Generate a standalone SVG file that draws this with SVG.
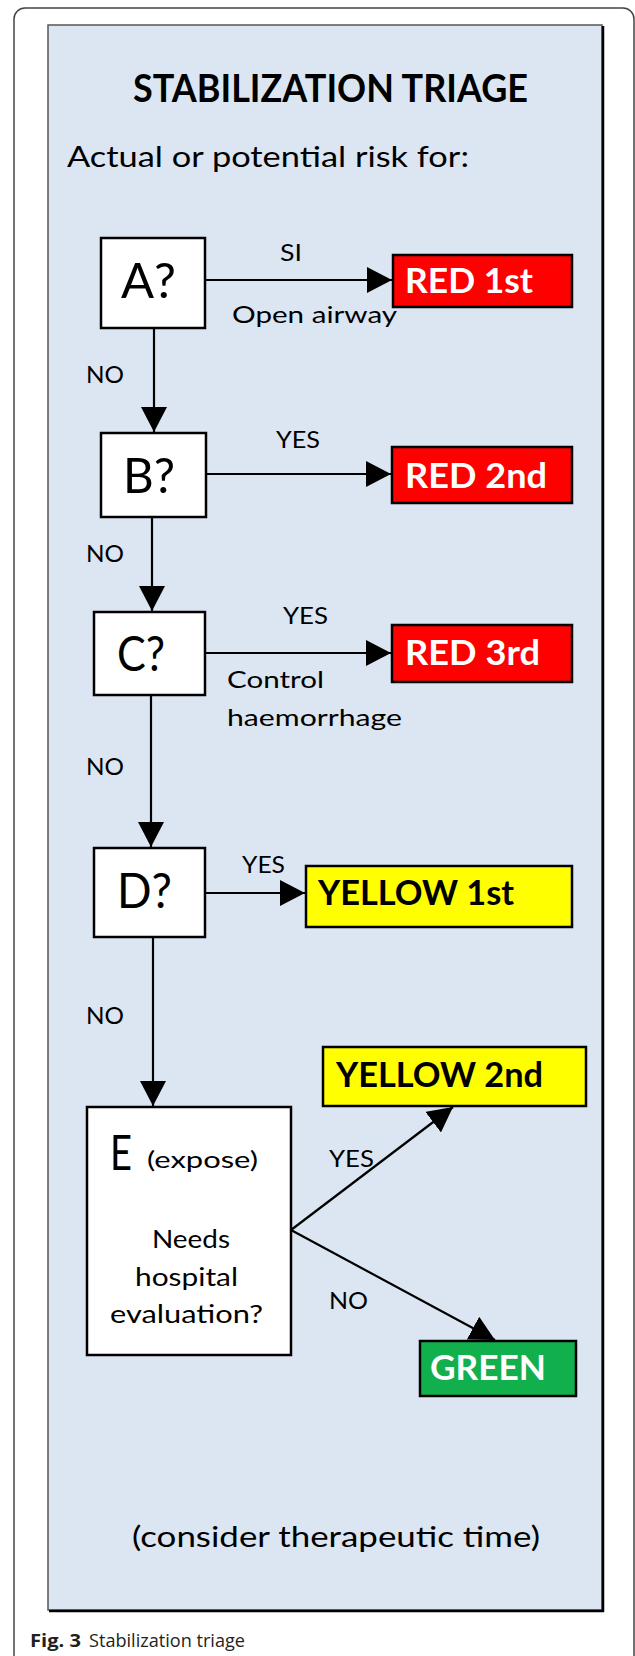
<svg xmlns="http://www.w3.org/2000/svg" width="635" height="1656" viewBox="0 0 635 1656">
  <defs>
    <marker id="head" markerUnits="userSpaceOnUse" viewBox="0 0 26 26" markerWidth="26" markerHeight="26" refX="25" refY="13" orient="auto">
      <path d="M0,0 L25,13 L0,26 z" fill="#000"/>
    </marker>
  </defs>
  <style>
    .t{font-family:Lato,"Open Sans","Liberation Sans",sans-serif;fill:#000}
    .bold{font-weight:bold}
    .lbl{font-size:24px}
    .q{font-size:49px}
    .tag{font-size:34px;font-weight:bold}
    .w{fill:#fff}
    .box{fill:#fff;stroke:#000;stroke-width:2.5}
    .red{fill:#fe0000;stroke:#000;stroke-width:2.5}
    .yel{fill:#ffff00;stroke:#000;stroke-width:2.5}
    .grn{fill:#12b04c;stroke:#000;stroke-width:2.5}
    .link{fill:none;stroke:#000;stroke-width:2.2;marker-end:url(#head)}
  </style>

  <rect width="635" height="1656" fill="#fff"/>

  <!-- page frame -->
  <path d="M14,1656 V19 A11,11 0 0 1 25,8 H623 A11,11 0 0 1 634,19 V1656" fill="none" stroke="#444" stroke-width="1.5"/>

  <!-- panel -->
  <g id="panel">
    <rect x="48" y="25" width="554" height="1585" fill="#dce6f2" stroke="#555" stroke-width="1.5"/>
    <path d="M603,26 V1611 H49" fill="none" stroke="#000" stroke-width="2.5"/>
    <text class="t bold" x="133" y="102" font-size="37.5" textLength="395" lengthAdjust="spacingAndGlyphs">STABILIZATION TRIAGE</text>
    <text class="t" x="67" y="167" font-size="28" textLength="402" lengthAdjust="spacingAndGlyphs">Actual or potential risk for:</text>
    <text class="t" x="132" y="1547" font-size="28" textLength="408" lengthAdjust="spacingAndGlyphs">(consider therapeutic time)</text>
  </g>

  <!-- connectors -->
  <g id="connectors">
    <path class="link" d="M205,280 H392"/>
    <path class="link" d="M154,328 V432"/>
    <path class="link" d="M206,474 H391"/>
    <path class="link" d="M152,517 V611"/>
    <path class="link" d="M205,653 H391"/>
    <path class="link" d="M151,695 V847"/>
    <path class="link" d="M205,893 H305"/>
    <path class="link" d="M153,937 V1106"/>
    <path class="link" d="M291,1230 L453,1107"/>
    <path class="link" d="M291,1230 L495,1340"/>
    <text class="t lbl" x="280" y="261" textLength="22" lengthAdjust="spacingAndGlyphs">SI</text>
    <text class="t lbl" x="232" y="323" textLength="165" lengthAdjust="spacingAndGlyphs">Open airway</text>
    <text class="t lbl" x="86" y="383" textLength="38" lengthAdjust="spacingAndGlyphs">NO</text>
    <text class="t lbl" x="276" y="448" textLength="44" lengthAdjust="spacingAndGlyphs">YES</text>
    <text class="t lbl" x="86" y="562" textLength="38" lengthAdjust="spacingAndGlyphs">NO</text>
    <text class="t lbl" x="283" y="624" textLength="45" lengthAdjust="spacingAndGlyphs">YES</text>
    <text class="t lbl" x="227" y="688" textLength="97" lengthAdjust="spacingAndGlyphs">Control</text>
    <text class="t lbl" x="227" y="726" textLength="175" lengthAdjust="spacingAndGlyphs">haemorrhage</text>
    <text class="t lbl" x="86" y="775" textLength="38" lengthAdjust="spacingAndGlyphs">NO</text>
    <text class="t lbl" x="242" y="873" textLength="43" lengthAdjust="spacingAndGlyphs">YES</text>
    <text class="t lbl" x="86" y="1024" textLength="38" lengthAdjust="spacingAndGlyphs">NO</text>
    <text class="t lbl" x="329" y="1167" textLength="45" lengthAdjust="spacingAndGlyphs">YES</text>
    <text class="t lbl" x="329" y="1309" textLength="39" lengthAdjust="spacingAndGlyphs">NO</text>
  </g>

  <!-- question nodes -->
  <g id="nodeA">
    <rect class="box" x="101" y="238" width="104" height="90"/>
    <text class="t q" x="121" y="298" textLength="55" lengthAdjust="spacingAndGlyphs">A?</text>
  </g>
  <g id="nodeB">
    <rect class="box" x="101" y="433" width="105" height="84"/>
    <text class="t q" x="123" y="493" textLength="52" lengthAdjust="spacingAndGlyphs">B?</text>
  </g>
  <g id="nodeC">
    <rect class="box" x="94" y="612" width="111" height="83"/>
    <text class="t q" x="117" y="671" textLength="48" lengthAdjust="spacingAndGlyphs">C?</text>
  </g>
  <g id="nodeD">
    <rect class="box" x="94" y="848" width="111" height="89"/>
    <text class="t q" x="117" y="908" textLength="55" lengthAdjust="spacingAndGlyphs">D?</text>
  </g>
  <g id="nodeE">
    <rect class="box" x="87" y="1107" width="204" height="248"/>
    <text class="t q" x="110" y="1170" textLength="22" lengthAdjust="spacingAndGlyphs">E</text>
    <text class="t lbl" x="147" y="1168" textLength="111" lengthAdjust="spacingAndGlyphs">(expose)</text>
    <text class="t" x="152" y="1248" font-size="25" textLength="78" lengthAdjust="spacingAndGlyphs">Needs</text>
    <text class="t" x="135" y="1286" font-size="25" textLength="103" lengthAdjust="spacingAndGlyphs">hospital</text>
    <text class="t" x="110" y="1323" font-size="25" textLength="153" lengthAdjust="spacingAndGlyphs">evaluation?</text>
  </g>

  <!-- outcome nodes -->
  <g id="red1">
    <rect class="red" x="393" y="255" width="179" height="52"/>
    <text class="t tag w" x="405" y="293" textLength="128" lengthAdjust="spacingAndGlyphs">RED 1st</text>
  </g>
  <g id="red2">
    <rect class="red" x="392" y="447" width="180" height="56"/>
    <text class="t tag w" x="405" y="488" textLength="142" lengthAdjust="spacingAndGlyphs">RED 2nd</text>
  </g>
  <g id="red3">
    <rect class="red" x="392" y="625" width="180" height="57"/>
    <text class="t tag w" x="405" y="665" textLength="135" lengthAdjust="spacingAndGlyphs">RED 3rd</text>
  </g>
  <g id="yellow1">
    <rect class="yel" x="306" y="866" width="266" height="61"/>
    <text class="t tag" x="318" y="905" textLength="196" lengthAdjust="spacingAndGlyphs">YELLOW 1st</text>
  </g>
  <g id="yellow2">
    <rect class="yel" x="323" y="1047" width="263" height="59"/>
    <text class="t tag" x="336" y="1087" textLength="207" lengthAdjust="spacingAndGlyphs">YELLOW 2nd</text>
  </g>
  <g id="green">
    <rect class="grn" x="420" y="1341" width="156" height="55"/>
    <text class="t tag w" x="430" y="1380" textLength="116" lengthAdjust="spacingAndGlyphs">GREEN</text>
  </g>

  <!-- caption -->
  <g id="caption">
    <text x="30" y="1647" font-family="'Open Sans','Liberation Sans',sans-serif" font-size="18" fill="#231f20"><tspan font-weight="bold" textLength="51" lengthAdjust="spacingAndGlyphs">Fig. 3</tspan><tspan x="89" textLength="156" lengthAdjust="spacingAndGlyphs">Stabilization triage</tspan></text>
  </g>
</svg>
